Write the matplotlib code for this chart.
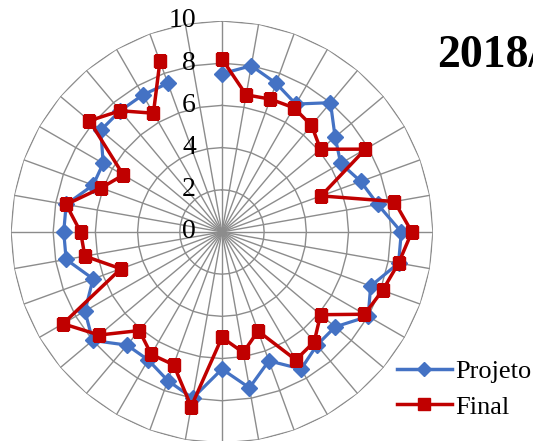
import numpy as np
import matplotlib.pyplot as plt
from matplotlib.transforms import offset_copy
from matplotlib.lines import Line2D

plt.rcParams['font.family'] = ['Liberation Serif', 'DejaVu Serif']

# radar values, 36 spokes clockwise from the top (last one has no data)
projeto = [7.5, 8.0, 7.5, 7.0, 8.0, 7.0, 6.5, 7.0, 7.5, 8.5, 8.5, 7.5,
           8.0, 7.0, 7.0, 7.5, 6.5, 7.5, 6.5, 8.0, 7.5, 7.0, 7.0, 8.0,
           7.5, 6.5, 7.5, 7.5, 7.5, 6.5, 6.5, 7.5, 7.5, 7.5, 7.5, np.nan]
final = [8.2, 6.6, 6.7, 6.8, 6.6, 6.1, 7.85, 5.0, 8.3, 9.0, 8.5, 8.1,
         7.8, 6.1, 6.8, 7.0, 5.0, 5.8, 5.0, 8.4, 6.7, 6.7, 6.1, 7.6,
         8.7, 5.1, 6.6, 6.7, 7.5, 6.1, 5.4, 8.2, 7.5, 6.5, 8.6, np.nan]
ticks = [0, 2, 4, 6, 8, 10]
title = '2018/2019'

n_cat = len(projeto)
theta = np.arange(n_cat) * 2 * np.pi / n_cat
grid_col = '#8c8c8c'
blue = '#4472C4'
red = '#C00000'

fig = plt.figure(figsize=(5.33, 4.41), dpi=100)
ax = fig.add_axes([0.0206, -0.0045, 0.7917, 0.957], projection='polar')
ax.set_theta_zero_location('N')
ax.set_theta_direction(-1)
ax.set_ylim(0, 10)
ax.grid(False)
ax.set_xticks([])
ax.set_yticks([])
ax.spines['polar'].set_visible(False)
ax.patch.set_visible(False)

# polygon gridlines and spokes
for r in ticks[1:]:
    ax.plot(np.append(theta, theta[0]), [r] * (n_cat + 1), color=grid_col, lw=1, zorder=1)
for t in theta:
    ax.plot([t, t], [0, 10], color=grid_col, lw=1, zorder=1)

ax.plot(theta, projeto, color=blue, lw=2.3, marker='D', ms=8, zorder=3)
ax.plot(theta, final, color=red, lw=2.5, marker='s', ms=8, zorder=4)

trans = offset_copy(ax.transData, fig=fig, x=-26, y=0, units='dots')
for r in ticks:
    ax.text(0, r, str(r), transform=trans, ha='right', va='center', fontsize=20)

# title runs off the right edge like in the original
fig.text(0.82, 0.848, title, fontsize=33, fontweight='bold', va='baseline', ha='left')

handles = [Line2D([], [], color=blue, lw=2.5, marker='D', ms=7),
           Line2D([], [], color=red, lw=2.5, marker='s', ms=8)]
fig.legend(handles, ['Projeto', 'Final'], loc='center left', bbox_to_anchor=(0.70, 0.1175),
           frameon=False, fontsize=19, handlelength=2.08, handletextpad=0.13, labelspacing=0.45)

fig.savefig('out.png', dpi=100)
